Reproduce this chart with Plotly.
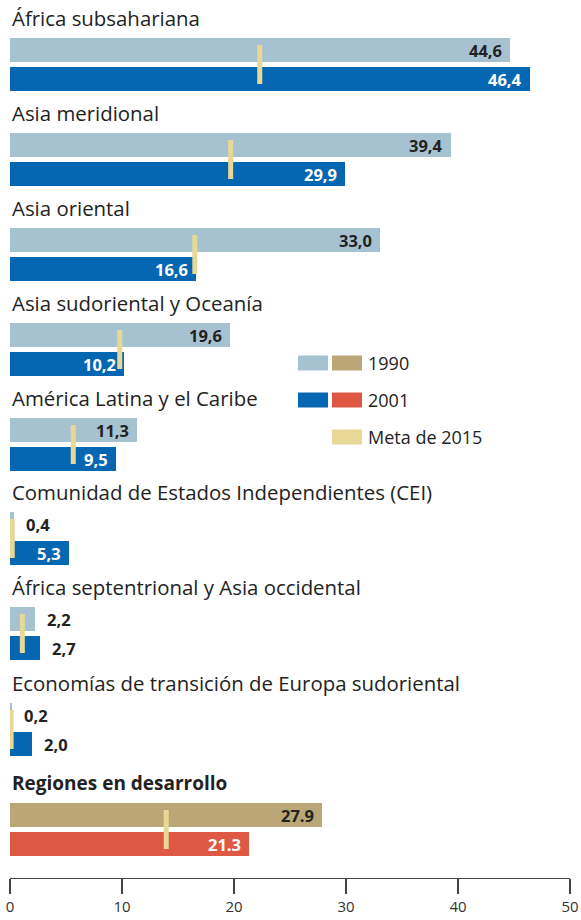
import plotly.graph_objects as go

# ---- data ----
regions = [
    "África subsahariana",
    "Asia meridional",
    "Asia oriental",
    "Asia sudoriental y Oceanía",
    "América Latina y el Caribe",
    "Comunidad de Estados Independientes (CEI)",
    "África septentrional y Asia occidental",
    "Economías de transición de Europa sudoriental",
    "Regiones en desarrollo",
]
values_1990 = [44.6, 39.4, 33.0, 19.6, 11.3, 0.4, 2.2, 0.2, 27.9]
values_2001 = [46.4, 29.9, 16.6, 10.2, 9.5, 5.3, 2.7, 2.0, 21.3]
goal_2015 = [22.3, 19.7, 16.5, 9.8, 5.65, 0.2, 1.1, 0.1, 13.95]
labels_1990 = ["44,6", "39,4", "33,0", "19,6", "11,3", "0,4", "2,2", "0,2", "27.9"]
labels_2001 = ["46,4", "29,9", "16,6", "10,2", "9,5", "5,3", "2,7", "2,0", "21.3"]
x_ticks = [0, 10, 20, 30, 40, 50]
legend_labels = ["1990", "2001", "Meta de 2015"]

# ---- styling / layout (pixel-based vertical positions) ----
C1990 = "#a6c2d1"
C2001 = "#0567b1"
C1990_TOTAL = "#bba678"
C2001_TOTAL = "#de5844"
CGOAL = "#e8d896"
FONT = "Open Sans"
TXT = "#222222"

W, H = 581, 920
ML, MR, MT, MB = 10, 11, 0, 42
PLOT_H = H - MT - MB
PLOT_W = W - ML - MR

base_y = [50, 145, 240, 335, 430, 524, 619, 715, 815]
gap = 29
bar_h = 24
n = len(regions)
y1990 = base_y
y2001 = [b + gap for b in base_y]

col1990 = [C1990] * (n - 1) + [C1990_TOTAL]
col2001 = [C2001] * (n - 1) + [C2001_TOTAL]

fig = go.Figure()
fig.add_trace(go.Bar(x=values_1990, y=y1990, orientation="h", width=bar_h,
                     marker=dict(color=col1990, line=dict(width=0)),
                     hoverinfo="skip", showlegend=False))
fig.add_trace(go.Bar(x=values_2001, y=y2001, orientation="h", width=bar_h,
                     marker=dict(color=col2001, line=dict(width=0)),
                     hoverinfo="skip", showlegend=False))

# goal markers
gx, gy = [], []
for i in range(n):
    gx += [goal_2015[i], goal_2015[i], None]
    gy += [y1990[i] - 5, y2001[i] + 5, None]
fig.add_trace(go.Scatter(x=gx, y=gy, mode="lines",
                         line=dict(color=CGOAL, width=5),
                         hoverinfo="skip", showlegend=False))

ann = []
for i in range(n):
    bold = i == n - 1
    ann.append(dict(x=0, xref="paper", y=base_y[i] - 32, yref="y",
                    text=("<b>%s</b>" % regions[i]) if bold else regions[i],
                    showarrow=False, xanchor="left", yanchor="middle",
                    font=dict(family=FONT, size=19 if bold else 20.4, color=TXT)))
    for vals, labs, ys, inside_color in ((values_1990, labels_1990, y1990, TXT),
                                          (values_2001, labels_2001, y2001, "white")):
        v = vals[i]
        inside = v >= 5
        ann.append(dict(x=v, xref="x", y=ys[i], yref="y",
                        text="<b>%s</b>" % labs[i], showarrow=False,
                        xanchor="right" if inside else "left",
                        xshift=-6 if inside else 10, yanchor="middle",
                        font=dict(family=FONT, size=16.5,
                                  color=inside_color if inside else TXT)))

# legend (custom)
def px2paper(px):
    return (px - ML) / PLOT_W

shapes = []
leg_rows = [(363, [C1990, C1990_TOTAL]), (400, [C2001, C2001_TOTAL]), (437, [None, CGOAL])]
for (yc, cols), lab in zip(leg_rows, legend_labels):
    for j, c in enumerate(cols):
        if c is None:
            continue
        x0 = 298 + j * 34
        shapes.append(dict(type="rect", xref="paper", yref="y",
                           x0=px2paper(x0), x1=px2paper(x0 + 30),
                           y0=yc - 7.5, y1=yc + 7.5,
                           fillcolor=c, line=dict(width=0)))
    ann.append(dict(x=px2paper(366), xref="paper", y=yc, yref="y", text=lab,
                    showarrow=False, xanchor="left", yanchor="middle",
                    font=dict(family=FONT, size=18, color=TXT)))

fig.update_layout(
    width=W, height=H,
    margin=dict(l=ML, r=MR, t=MT, b=MB),
    paper_bgcolor="white", plot_bgcolor="white",
    barmode="overlay", bargap=0,
    annotations=ann, shapes=shapes,
    xaxis=dict(range=[0, 50], tickvals=x_ticks, ticktext=[str(t) for t in x_ticks],
               showgrid=False, zeroline=False, showline=True, linecolor="#444",
               linewidth=1, ticks="outside", ticklen=15, tickwidth=1.5,
               tickcolor="#444", tickfont=dict(family=FONT, size=15, color="#333"),
               fixedrange=True),
    yaxis=dict(range=[PLOT_H, 0], visible=False, showgrid=False, zeroline=False,
               fixedrange=True),
    font=dict(family=FONT),
)

fig.write_html(
    "out.html",
    config={"displayModeBar": False},
    post_script="document.body.style.margin='0';document.body.style.padding='0';"
                "document.body.style.overflow='hidden';",
)
